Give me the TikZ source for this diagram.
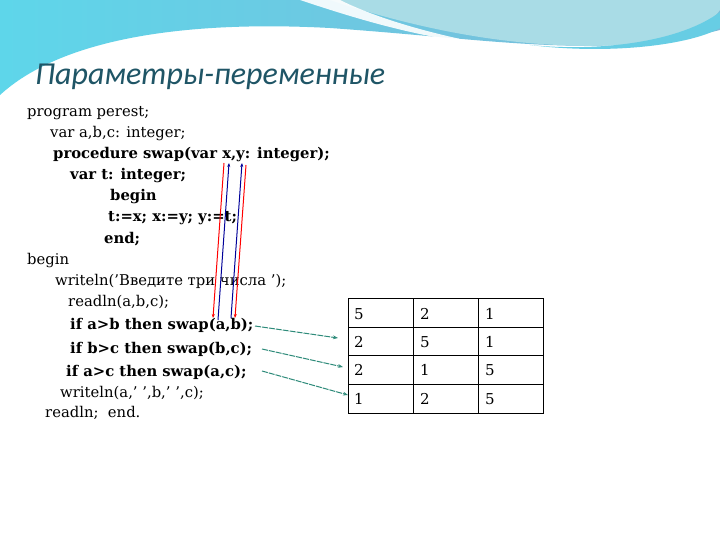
\documentclass[tikz,border=0pt]{standalone}
\usepackage{fontspec}
\setmainfont{DejaVu Serif}
\newfontfamily\titlefont{Carlito}
\usetikzlibrary{arrows.meta}
\definecolor{ttl}{HTML}{1F5566}
\definecolor{grn}{HTML}{2E8B7A}
\definecolor{bl1}{HTML}{7DB9D8}
\definecolor{bl2}{HTML}{A9DCE6}
\definecolor{cy}{HTML}{5ED6EA}
\begin{document}
\begin{tikzpicture}[x=1pt,y=-1pt,
  code/.style={anchor=west,inner sep=0pt,font=\fontsize{14.8}{15}\selectfont},
  bcode/.style={code,font=\fontsize{14.8}{15}\selectfont\bfseries},
  cell/.style={anchor=west,inner sep=0pt,font=\fontsize{15}{15}\selectfont},
  red/.style={draw=red,line width=1pt,-{Stealth[length=4pt]}},
  blu/.style={draw=blue!60!black,line width=1pt,-{Stealth[length=4pt]}},
  gar/.style={draw=grn,line width=1pt,dashed,dash pattern=on 6pt off 1pt,-{Stealth[length=5pt]}}]
\useasboundingbox (0,0) rectangle (720,540);
\fill[white] (0,0) rectangle (720,540);
% banner
\shade[left color=cy,right color=bl1] (0,0) -- (720,0) -- (720,30)
  .. controls (600,60) and (500,40) .. (330,28) .. controls (180,20) and (60,40) .. (0,95) -- cycle;
\fill[bl2] (330,0) .. controls (420,30) and (520,50) .. (620,45) .. controls (680,40) and (710,25) .. (720,10) -- (720,0) -- cycle;
\fill[white,opacity=0.9] (300,0) .. controls (360,20) and (420,38) .. (490,45) .. controls (420,32) and (370,15) .. (340,0) -- cycle;
\fill[cy!70!bl1] (720,12) .. controls (680,42) and (600,52) .. (530,45) .. controls (610,55) and (690,45) .. (720,28) -- cycle;
\node[anchor=west,inner sep=0pt,text=ttl,font=\titlefont\itshape\fontsize{32}{34}\selectfont] (title) at (35,77) {Параметры-переменные};
% code
\node[code] (l1) at (27,113) {program perest;};
\node[code] (l2) at (50,134) {var a,b,c: integer;};
\node[bcode] (l3) at (53,155) {procedure swap(var x,y: integer);};
\node[bcode] (l4) at (70,176) {var t: integer;};
\node[bcode] (l5) at (110,197) {begin};
\node[bcode] (l6) at (108,218) {t:=x; x:=y; y:=t;};
\node[bcode] (l7) at (104,239) {end;};
\node[code] (l8) at (27,261) {begin};
\node[code] (l9) at (55,281) {writeln('Введите три числа ');};
\node[code] (l10) at (68,302) {readln(a,b,c);};
\node[bcode] (l11) at (70,325) {if a>b then swap(a,b);};
\node[bcode] (l12) at (70,349) {if b>c then swap(b,c);};
\node[bcode] (l13) at (66,372) {if a>c then swap(a,c);};
\node[code] (l14) at (60,393) {writeln(a,' ',b,' ',c);};
\node[code] (l15) at (45,413) {readln;\ \ end.};
% parameter arrows
\coordinate (rx1) at (224,163); \coordinate (rx2) at (213,318);
\coordinate (bx1) at (229,163); \coordinate (bx2) at (218,320);
\coordinate (by1) at (242,163); \coordinate (by2) at (231,318);
\coordinate (ry1) at (246,165); \coordinate (ry2) at (235,318);
\draw[red] (rx1) -- (rx2);
\draw[blu] (bx2) -- (bx1);
\draw[blu] (by2) -- (by1);
\draw[red] (ry1) -- (ry2);
% table
\draw[line width=0.8pt] (348,298) rectangle (543,413);
\foreach \y in {327,355,384} \draw[line width=0.8pt] (348,\y) -- (543,\y);
\foreach \x in {413,478} \draw[line width=0.8pt] (\x,298) -- (\x,413);
\node[cell] (c11) at (354,314) {5}; \node[cell] (c12) at (420,314) {2}; \node[cell] (c13) at (485,314) {1};
\node[cell] (c21) at (354,342) {2}; \node[cell] (c22) at (420,342) {5}; \node[cell] (c23) at (485,342) {1};
\node[cell] (c31) at (354,370) {2}; \node[cell] (c32) at (420,370) {1}; \node[cell] (c33) at (485,370) {5};
\node[cell] (c41) at (354,399) {1}; \node[cell] (c42) at (420,399) {2}; \node[cell] (c43) at (485,399) {5};
% green arrows
\coordinate (g1) at (338,338); \coordinate (g2) at (343,367); \coordinate (g3) at (348,395);
\coordinate (s1) at (255,326); \coordinate (s2) at (262,349); \coordinate (s3) at (262,371);
\draw[gar] (s1) -- (g1);
\draw[gar] (s2) -- (g2);
\draw[gar] (s3) -- (g3);
\end{tikzpicture}
\end{document}
